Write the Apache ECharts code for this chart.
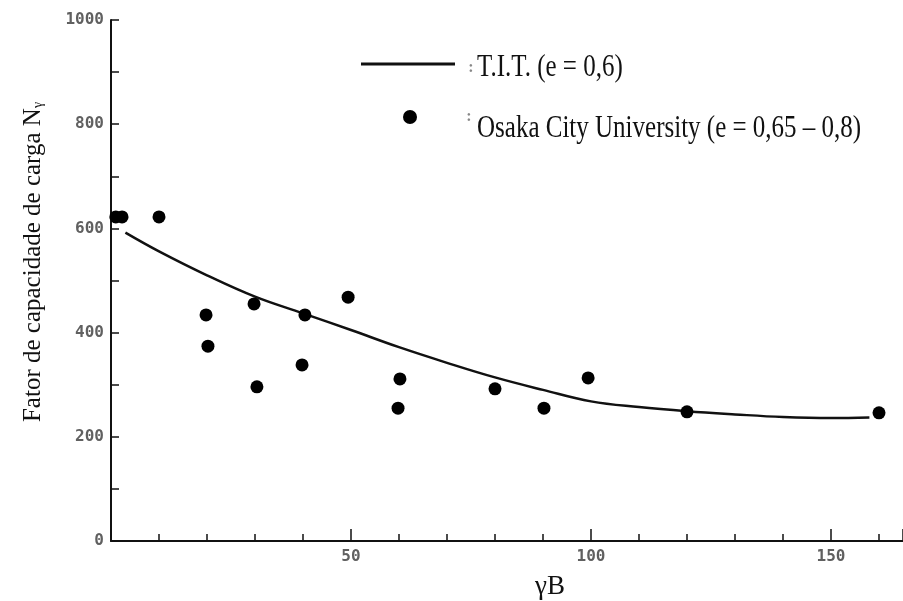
<!DOCTYPE html>
<html>
<head>
<meta charset="utf-8">
<script src="https://cdn.jsdelivr.net/npm/echarts@6/dist/echarts.min.js"></script>
<style>
  html, body { margin: 0; padding: 0; background: #ffffff; }
  #chart { width: 903px; height: 601px; }
</style>
</head>
<body>
<div id="chart"></div>
<script>
// T.I.T. curve (e = 0,6): γB vs Nγ
const titGammaB = [3, 10, 20, 30, 40, 50, 60, 70, 80, 90, 100, 110, 120, 130, 140, 150, 158];
const titNgamma = [592, 556, 510, 469, 437, 405, 372, 342, 314, 290, 268, 257, 249, 243, 238, 236, 237];

// Osaka City University tests (e = 0,65 – 0,8)
const osakaGammaB = [1, 2.3, 10, 19.8, 20.2, 29.8, 30.4, 39.8, 40.4, 49.4, 60.2, 59.8, 80, 90.2, 99.4, 120, 160];
const osakaNgamma = [622, 622, 622, 434, 374, 455, 296, 338, 434, 468, 311, 255, 292, 255, 313, 248, 246];

// Axis ticks and labels
const xLabels = [50, 100, 150];
const yLabels = [0, 200, 400, 600, 800, 1000];

const titName = 'T.I.T. (e = 0,6)';
const osakaName = 'Osaka City University (e = 0,65 – 0,8)';

const X_MAX = 165;
const tickFont = { color: '#606060', fontFamily: 'DejaVu Sans Mono', fontSize: 16, fontWeight: 'bold' };
const serif = 'Liberation Serif';
const plain = v => String(v);

const chart = echarts.init(document.getElementById('chart'), null, { renderer: 'canvas' });

const gridBox = { left: 111, top: 20, right: 0, bottom: 60, outerBoundsMode: 'none', containLabel: false };

chart.setOption({
  animation: false,
  backgroundColor: '#ffffff',
  grid: [Object.assign({}, gridBox), Object.assign({}, gridBox)],
  xAxis: [
    {
      // minor ticks every 10
      type: 'value', gridIndex: 0, min: 0, max: X_MAX, interval: 10,
      axisLine: { show: true, onZero: false, lineStyle: { color: '#111', width: 2 } },
      axisTick: { show: true, inside: true, length: 7, lineStyle: { color: '#111', width: 1.5 } },
      axisLabel: Object.assign({ show: true, margin: 8, customValues: xLabels, formatter: plain }, tickFont),
      splitLine: { show: false }
    },
    {
      // longer ticks every 50
      type: 'value', gridIndex: 1, min: 0, max: X_MAX, interval: 50,
      axisLine: { show: false },
      axisTick: { show: true, inside: true, length: 12, lineStyle: { color: '#111', width: 1.5 } },
      axisLabel: { show: false },
      splitLine: { show: false }
    }
  ],
  yAxis: [
    {
      type: 'value', gridIndex: 0, min: 0, max: 1000, interval: 100,
      axisLine: { show: true, onZero: false, lineStyle: { color: '#111', width: 2 } },
      axisTick: { show: true, inside: true, length: 8, lineStyle: { color: '#111', width: 1.5 } },
      axisLabel: Object.assign({ show: true, margin: 7, customValues: yLabels, formatter: plain }, tickFont),
      splitLine: { show: false }
    },
    {
      type: 'value', gridIndex: 1, min: 0, max: 1000,
      show: false
    }
  ],
  series: [
    {
      name: titName,
      type: 'line',
      xAxisIndex: 0, yAxisIndex: 0,
      data: titGammaB.map((x, i) => [x, titNgamma[i]]),
      smooth: 0.4,
      symbol: 'none',
      lineStyle: { color: '#111', width: 2.5 },
      z: 2
    },
    {
      name: osakaName,
      type: 'scatter',
      xAxisIndex: 0, yAxisIndex: 0,
      data: osakaGammaB.map((x, i) => [x, osakaNgamma[i]]),
      symbol: 'circle',
      symbolSize: 13,
      itemStyle: { color: '#000000', opacity: 1 },
      z: 3
    }
  ],
  graphic: [
    // legend: T.I.T.
    { type: 'line', shape: { x1: 361, y1: 64, x2: 455, y2: 64 }, style: { stroke: '#111', lineWidth: 3 } },
    { type: 'text', x: 471, y: 68, style: { text: ':', fill: '#888', font: 'bold 16px "Liberation Serif"', align: 'center', verticalAlign: 'middle' } },
    { type: 'text', x: 477, y: 68, scaleY: 1.25, style: { text: titName, fill: '#111', font: '25px "Liberation Serif"', align: 'left', verticalAlign: 'middle' } },
    // legend: Osaka City University
    { type: 'circle', shape: { cx: 410, cy: 117, r: 7 }, style: { fill: '#000000' } },
    { type: 'text', x: 469, y: 117, style: { text: ':', fill: '#888', font: 'bold 16px "Liberation Serif"', align: 'center', verticalAlign: 'middle' } },
    { type: 'text', x: 477, y: 129, scaleY: 1.25, style: { text: osakaName, fill: '#111', font: '25px "Liberation Serif"', align: 'left', verticalAlign: 'middle' } },
    // axis names
    {
      type: 'text', x: 33, y: 262, rotation: Math.PI / 2,
      style: {
        text: 'Fator de capacidade de carga N{sub|γ}',
        fill: '#111', font: '25px "Liberation Serif"', align: 'center', verticalAlign: 'middle',
        rich: { sub: { fontSize: 14, fontFamily: serif, fill: '#111', padding: [10, 0, 0, 0] } }
      }
    },
    { type: 'text', x: 550, y: 587, style: { text: 'γB', fill: '#111', font: '27px "Liberation Serif"', align: 'center', verticalAlign: 'middle' } }
  ]
});
</script>
</body>
</html>
